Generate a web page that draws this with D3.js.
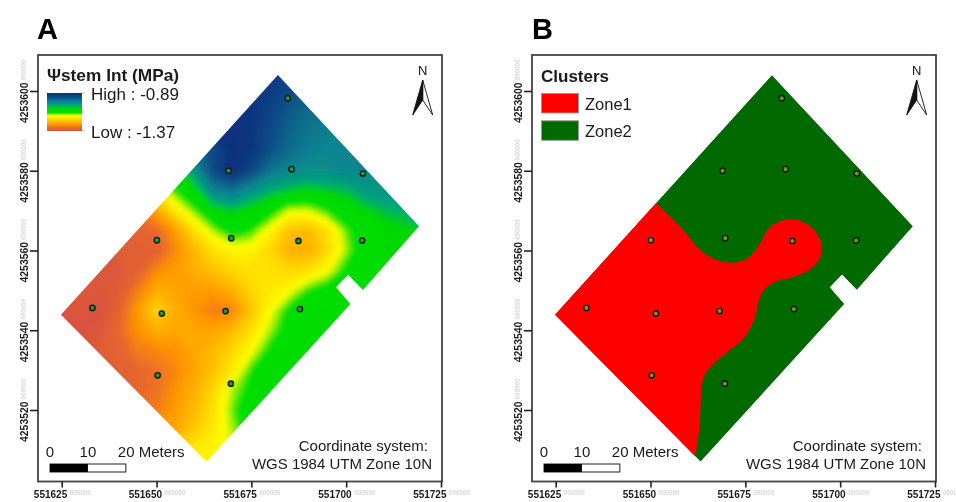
<!DOCTYPE html>
<html>
<head>
<meta charset="utf-8">
<style>
   html, body { margin: 0; padding: 0; background: #fff; }
   svg { display: block; filter: blur(0.4px); }
   text { font-family: "Liberation Sans", Arial, sans-serif; fill: #1a1a1a; }
</style>
<script src="https://cdn.jsdelivr.net/npm/d3@7"></script>
</head>
<body>
<script>
'use strict';

var xTickValues = [551625, 551650, 551675, 551700, 551725];
var yTickValues = [4253520, 4253540, 4253560, 4253580, 4253600];
var scaleBarMeters = [0, 10, 20];

// sample trees [easting, northing]
var treePoints = [
   [551684.6, 4253598.2], [551669.0, 4253580.0], [551685.6, 4253580.4], [551704.4, 4253579.3],
   [551650.1, 4253562.6], [551669.7, 4253563.1], [551687.4, 4253562.4], [551704.2, 4253562.5],
   [551633.1, 4253545.6], [551651.4, 4253544.2], [551668.2, 4253544.8], [551687.8, 4253545.3],
   [551650.3, 4253528.7], [551669.6, 4253526.6]
];

// field outline
var fieldOutline = [
   [551682.0, 4253604.0], [551719.2, 4253566.1], [551704.4, 4253550.1], [551700.5, 4253553.9],
   [551697.3, 4253550.8], [551701.1, 4253546.6], [551663.2, 4253507.0], [551624.8, 4253543.9]
];

// edge between Zone1 and Zone2
var zoneEdge = [
   [551649.6, 4253573.9], [551651.2, 4253572.2], [551656.6, 4253567.2], [551659.3, 4253564.4],
   [551663.6, 4253559.7], [551668.1, 4253557.4], [551672.5, 4253557.0], [551676.0, 4253558.4],
   [551678.6, 4253561.4], [551681.2, 4253565.6], [551684.7, 4253567.5], [551689.1, 4253567.5],
   [551692.7, 4253565.6], [551694.9, 4253562.2], [551694.6, 4253558.0], [551691.8, 4253555.1],
   [551687.4, 4253553.3], [551683.0, 4253552.2], [551679.9, 4253550.1], [551678.6, 4253547.6],
   [551677.3, 4253542.6], [551674.2, 4253537.6], [551669.8, 4253534.2], [551665.9, 4253530.9],
   [551663.8, 4253527.5], [551663.2, 4253521.7], [551663.0, 4253516.7], [551661.9, 4253509.1],
   [551661.2, 4253505.0]
];
var zoneOuter = [[551620, 4253505], [551620, 4253574]];

// stem water potential (MPa) read on a 5 m grid, north to south, west to east
var gridEast = 551620;
var gridNorth = 4253605;
var gridStep = 5;
var psiRows = [
   [-0.92,-0.92,-0.92,-0.92,-0.92,-0.92,-0.92,-0.92,-0.92,-0.92,-0.92,-0.91,-0.91,-0.92,-0.93,-0.94,-0.95,-0.95,-0.95,-0.95,-0.95],
   [-0.90,-0.90,-0.90,-0.90,-0.90,-0.90,-0.90,-0.90,-0.90,-0.90,-0.90,-0.90,-0.91,-0.93,-0.95,-0.97,-0.97,-0.97,-0.97,-0.97,-0.97],
   [-0.90,-0.90,-0.90,-0.90,-0.90,-0.90,-0.90,-0.90,-0.90,-0.90,-0.90,-0.90,-0.92,-0.95,-0.97,-0.98,-0.99,-0.99,-0.99,-0.99,-0.99],
   [-0.92,-0.92,-0.92,-0.92,-0.92,-0.92,-0.92,-0.92,-0.92,-0.90,-0.89,-0.90,-0.93,-0.96,-0.98,-0.99,-1.00,-1.00,-1.00,-1.00,-1.00],
   [-1.00,-1.00,-1.00,-1.00,-1.00,-1.00,-1.00,-1.00,-0.97,-0.93,-0.89,-0.90,-0.94,-0.97,-0.99,-1.00,-1.00,-1.00,-1.00,-1.00,-1.00],
   [-1.15,-1.15,-1.15,-1.15,-1.15,-1.15,-1.15,-1.11,-1.02,-0.93,-0.89,-0.93,-0.98,-1.00,-1.01,-1.01,-1.00,-1.00,-1.00,-1.00,-1.00],
   [-1.25,-1.25,-1.25,-1.25,-1.25,-1.25,-1.20,-1.14,-1.09,-1.00,-0.98,-1.02,-1.05,-1.07,-1.08,-1.07,-1.06,-1.03,-1.02,-1.01,-1.00],
   [-1.30,-1.30,-1.30,-1.30,-1.30,-1.31,-1.27,-1.20,-1.15,-1.09,-1.07,-1.09,-1.12,-1.17,-1.17,-1.14,-1.10,-1.08,-1.06,-1.05,-1.03],
   [-1.34,-1.34,-1.34,-1.34,-1.34,-1.34,-1.33,-1.28,-1.21,-1.16,-1.12,-1.14,-1.19,-1.24,-1.25,-1.21,-1.15,-1.11,-1.09,-1.08,-1.07],
   [-1.36,-1.36,-1.36,-1.36,-1.35,-1.35,-1.34,-1.30,-1.25,-1.21,-1.19,-1.19,-1.22,-1.26,-1.26,-1.22,-1.16,-1.11,-1.09,-1.08,-1.08],
   [-1.36,-1.36,-1.36,-1.36,-1.36,-1.34,-1.30,-1.28,-1.26,-1.24,-1.22,-1.21,-1.21,-1.22,-1.21,-1.18,-1.13,-1.11,-1.10,-1.09,-1.09],
   [-1.37,-1.37,-1.36,-1.36,-1.35,-1.31,-1.26,-1.27,-1.28,-1.28,-1.26,-1.22,-1.20,-1.18,-1.14,-1.12,-1.11,-1.10,-1.10,-1.10,-1.10],
   [-1.37,-1.37,-1.36,-1.37,-1.34,-1.28,-1.22,-1.26,-1.29,-1.31,-1.30,-1.24,-1.18,-1.13,-1.11,-1.11,-1.11,-1.10,-1.10,-1.10,-1.10],
   [-1.37,-1.37,-1.37,-1.36,-1.33,-1.29,-1.26,-1.27,-1.27,-1.27,-1.25,-1.21,-1.16,-1.12,-1.11,-1.11,-1.11,-1.11,-1.11,-1.11,-1.11],
   [-1.36,-1.36,-1.36,-1.35,-1.34,-1.31,-1.30,-1.29,-1.27,-1.25,-1.22,-1.18,-1.13,-1.11,-1.11,-1.11,-1.11,-1.11,-1.11,-1.11,-1.11],
   [-1.35,-1.35,-1.35,-1.35,-1.34,-1.33,-1.32,-1.30,-1.27,-1.24,-1.20,-1.14,-1.11,-1.10,-1.10,-1.10,-1.10,-1.10,-1.10,-1.10,-1.10],
   [-1.34,-1.34,-1.34,-1.34,-1.34,-1.33,-1.32,-1.29,-1.26,-1.22,-1.16,-1.13,-1.10,-1.10,-1.10,-1.10,-1.10,-1.10,-1.10,-1.10,-1.10],
   [-1.32,-1.32,-1.32,-1.32,-1.32,-1.32,-1.31,-1.28,-1.25,-1.21,-1.15,-1.11,-1.10,-1.10,-1.10,-1.10,-1.10,-1.10,-1.10,-1.10,-1.10],
   [-1.28,-1.28,-1.28,-1.28,-1.28,-1.28,-1.28,-1.27,-1.23,-1.20,-1.16,-1.12,-1.11,-1.10,-1.10,-1.10,-1.10,-1.10,-1.10,-1.10,-1.10],
   [-1.22,-1.22,-1.22,-1.22,-1.22,-1.22,-1.22,-1.22,-1.20,-1.19,-1.17,-1.14,-1.12,-1.11,-1.10,-1.10,-1.10,-1.10,-1.10,-1.10,-1.10],
   [-1.20,-1.20,-1.20,-1.20,-1.20,-1.20,-1.20,-1.20,-1.19,-1.18,-1.17,-1.15,-1.13,-1.12,-1.11,-1.10,-1.10,-1.10,-1.10,-1.10,-1.10]
];

var colorValues = [-0.89, -0.94, -1.00, -1.05, -1.08, -1.14, -1.16, -1.18, -1.29, -1.33, -1.37];
var colorRange = ['#0a2d7d', '#0b4f88', '#0a8590', '#00a878', '#00d800', '#00e000', '#a0f000', '#ffff00', '#ff9500', '#e8682c', '#d9533f'];

var zoneNames = ['Zone1', 'Zone2'];
var zoneColors = ['#ff0000', '#006a00'];

var psiColor = d3.scaleLinear().domain(colorValues).range(colorRange);

// both panels share these scales, panel B is just shifted right
var x = d3.scaleLinear().domain([551625, 551725]).range([61.7, 441]);
var y = d3.scaleLinear().domain([4253600, 4253520]).range([91, 410]);
var panelOffset = 494;

var frame = { left: 38, top: 55, right: 442, bottom: 481.5 };

var svg = d3.select('body').append('svg')
   .attr('width', 956)
   .attr('height', 502);

var defs = svg.append('defs');

defs.append('clipPath').attr('id', 'fieldClip')
   .append('path')
   .attr('d', d3.line().x(function(d){ return x(d[0]); }).y(function(d){ return y(d[1]); })(fieldOutline) + 'Z');

defs.append('filter').attr('id', 'soften')
   .attr('x', '-5%').attr('y', '-5%').attr('width', '110%').attr('height', '110%')
   .append('feGaussianBlur').attr('stdDeviation', 2.5);

var legendGradient = defs.append('linearGradient').attr('id', 'psiLegend')
   .attr('x1', 0).attr('x2', 0).attr('y1', 0).attr('y2', 1);
legendGradient.selectAll('stop')
   .data(colorValues)
   .enter()
   .append('stop')
   .attr('offset', function(d){ return (-0.89 - d) / 0.48; })
   .attr('stop-color', function(d){ return psiColor(d); });

function drawAxes(panel){
   panel.append('rect')
      .attr('x', frame.left).attr('y', frame.top)
      .attr('width', frame.right - frame.left).attr('height', frame.bottom - frame.top)
      .attr('fill', 'none').attr('stroke', '#444').attr('stroke-width', 1.8);

   var xAxis = panel.append('g')
      .attr('transform', 'translate(0,' + frame.bottom + ')')
      .call(d3.axisBottom(x).tickValues(xTickValues).tickFormat(d3.format('d')).tickSize(6).tickSizeOuter(0));
   xAxis.select('.domain').remove();
   xAxis.selectAll('line').attr('stroke', '#222').attr('stroke-width', 1.6);
   xAxis.selectAll('text')
      .attr('text-anchor', 'end').attr('x', 5).attr('y', 9)
      .style('font-size', '10px').style('font-weight', 'bold');
   xAxis.selectAll('.tick').append('text')
      .text('000000')
      .attr('text-anchor', 'start')
      .attr('x', 7.5).attr('y', 13.5).attr('dy', 0)
      .style('fill', '#d8d8d8').style('font-size', '6.3px').style('font-weight', 'bold');

   var yAxis = panel.append('g')
      .attr('transform', 'translate(' + frame.left + ',0)')
      .call(d3.axisLeft(y).tickValues(yTickValues).tickFormat(d3.format('d')).tickSize(8).tickSizeOuter(0));
   yAxis.select('.domain').remove();
   yAxis.selectAll('line').attr('stroke', '#222').attr('stroke-width', 1.6);
   yAxis.selectAll('text')
      .attr('transform', 'rotate(-90)')
      .attr('text-anchor', 'end').attr('x', 9).attr('y', -10).attr('dy', 0)
      .style('font-size', '10.4px').style('font-weight', 'bold');
   yAxis.selectAll('.tick').append('text')
      .text('000000')
      .attr('transform', 'rotate(-90)')
      .attr('text-anchor', 'start')
      .attr('x', 11).attr('y', -12.5).attr('dy', 0)
      .style('fill', '#d8d8d8').style('font-size', '6.3px').style('font-weight', 'bold');
}

function drawExtras(panel){
   // north arrow
   var north = panel.append('g').attr('transform', 'translate(422.7,0)');
   north.append('text').text('N')
      .attr('text-anchor', 'middle').attr('y', 75).style('font-size', '13px').style('fill', '#111');
   north.append('path').attr('d', 'M0,80L10,115L0,100Z')
      .attr('fill', '#fff').attr('stroke', '#111').attr('stroke-width', 0.9);
   north.append('path').attr('d', 'M0,80L-10,115L0,100Z')
      .attr('fill', '#111').attr('stroke', '#111').attr('stroke-width', 0.9);

   // scale bar
   var meterPx = x(551635) - x(551625);
   var barLeft = 50;
   var bar = panel.append('g');
   bar.append('rect')
      .attr('x', barLeft).attr('y', 464)
      .attr('width', meterPx * 2).attr('height', 8)
      .attr('fill', '#fff').attr('stroke', '#222').attr('stroke-width', 1);
   bar.append('rect')
      .attr('x', barLeft).attr('y', 464)
      .attr('width', meterPx).attr('height', 8)
      .attr('fill', '#000');
   bar.selectAll('text.mark')
      .data(scaleBarMeters)
      .enter()
      .append('text')
      .attr('class', 'mark')
      .attr('x', function(d){ return barLeft + (d / 10) * meterPx; })
      .attr('y', 457)
      .attr('text-anchor', function(d){ return d === 20 ? 'start' : 'middle'; })
      .attr('dx', function(d){ return d === 20 ? -8 : 0; })
      .style('font-size', '15px')
      .text(function(d){ return d === 20 ? '20 Meters' : d; });

   panel.append('text').text('Coordinate system:')
      .attr('x', 428).attr('y', 451).attr('text-anchor', 'end').style('font-size', '15px');
   panel.append('text').text('WGS 1984 UTM Zone 10N')
      .attr('x', 432).attr('y', 469).attr('text-anchor', 'end').style('font-size', '15px');
}

function drawTrees(panel, fill){
   panel.append('g').selectAll('circle')
      .data(treePoints)
      .enter()
      .append('circle')
      .attr('cx', function(d){ return x(d[0]); })
      .attr('cy', function(d){ return y(d[1]); })
      .attr('r', 2.7)
      .attr('fill', fill)
      .attr('stroke', '#111')
      .attr('stroke-width', 1.3);
}

// panel A
var panelA = svg.append('g');
panelA.append('text').text('A')
   .attr('x', 37).attr('y', 39).style('font-size', '29px').style('font-weight', 'bold').style('fill', '#000');

var gridPath = d3.geoPath(d3.geoTransform({
   point: function(col, row){
      this.stream.point(
         x(gridEast + (col - 0.5) * gridStep),
         y(gridNorth - (row - 0.5) * gridStep)
      );
   }
}));

var psiContours = d3.contours()
   .size([psiRows[0].length, psiRows.length])
   .thresholds(d3.range(-1.37, -0.885, 0.005))(d3.merge(psiRows));

var surface = panelA.append('g').attr('clip-path', 'url(#fieldClip)')
   .append('g').attr('filter', 'url(#soften)');
surface.selectAll('path')
   .data(psiContours)
   .enter()
   .append('path')
   .attr('d', gridPath)
   .attr('fill', function(d){ return psiColor(d.value); })
   .attr('stroke', function(d){ return psiColor(d.value); })
   .attr('stroke-width', 0.5);

drawTrees(panelA, '#12a03a');
drawAxes(panelA);
drawExtras(panelA);

panelA.append('text').text('Ψstem Int (MPa)')
   .attr('x', 47).attr('y', 81).style('font-size', '17.3px').style('font-weight', 'bold');
panelA.append('rect')
   .attr('x', 47).attr('y', 93).attr('width', 35).attr('height', 38)
   .attr('fill', 'url(#psiLegend)');
panelA.append('g').selectAll('line')
   .data([93, 112, 131])
   .enter()
   .append('line')
   .attr('x1', 82).attr('x2', 85)
   .attr('y1', function(d){ return d; }).attr('y2', function(d){ return d; })
   .attr('stroke', '#bbb');
panelA.append('text').text('High : -0.89')
   .attr('x', 91).attr('y', 100).style('font-size', '17px');
panelA.append('text').text('Low : -1.37')
   .attr('x', 91).attr('y', 138).style('font-size', '17px');

// panel B
var panelB = svg.append('g').attr('transform', 'translate(' + panelOffset + ',0)');
panelB.append('text').text('B')
   .attr('x', 38).attr('y', 39).style('font-size', '29px').style('font-weight', 'bold').style('fill', '#000');

var lineXY = d3.line().x(function(d){ return x(d[0]); }).y(function(d){ return y(d[1]); });
var zoneCurve = d3.line()
   .x(function(d){ return x(d[0]); })
   .y(function(d){ return y(d[1]); })
   .curve(d3.curveCatmullRom);

var zones = panelB.append('g').attr('clip-path', 'url(#fieldClip)');
zones.append('path')
   .attr('d', lineXY(fieldOutline) + 'Z')
   .attr('fill', zoneColors[1]);
zones.append('path')
   .attr('d', zoneCurve(zoneEdge) + 'L' + zoneOuter.map(function(d){ return x(d[0]) + ',' + y(d[1]); }).join('L') + 'Z')
   .attr('fill', zoneColors[0]);

drawTrees(panelB, '#6f9a1e');
drawAxes(panelB);
drawExtras(panelB);

panelB.append('text').text('Clusters')
   .attr('x', 47).attr('y', 82).style('font-size', '17px').style('font-weight', 'bold');
zoneNames.forEach(function(name, i){
   panelB.append('rect')
      .attr('x', 47.5).attr('y', 93.5 + i * 27.3)
      .attr('width', 37).attr('height', 19.5)
      .attr('fill', zoneColors[i]).attr('stroke', '#999').attr('stroke-width', 1);
   panelB.append('text').text(name)
      .attr('x', 91).attr('y', 110 + i * 27.3)
      .style('font-size', '16.5px');
});
</script>
</body>
</html>
